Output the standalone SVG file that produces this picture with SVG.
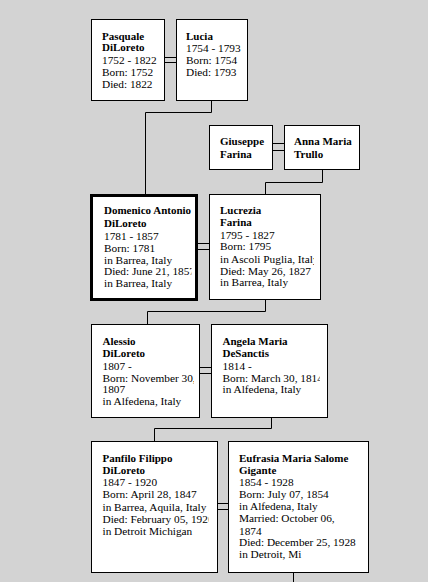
<svg xmlns="http://www.w3.org/2000/svg" width="428" height="582" viewBox="0 0 428 582">
<style>
.bg{fill:#d3d3d3}
.box{fill:#fff;stroke:#000;stroke-width:1}
.thick{fill:#fff;stroke:#000;stroke-width:3}
.ln{fill:none;stroke:#000;stroke-width:1}
text{font-family:"Liberation Serif","Times New Roman",serif;font-size:11.3px;fill:#000}
.n{font-weight:bold;font-size:11px}
</style>
<defs>
<clipPath id="c1"><rect x="92" y="20" width="70" height="80"/></clipPath>
<clipPath id="c2"><rect x="177" y="20" width="68" height="80"/></clipPath>
<clipPath id="c3"><rect x="210" y="126" width="61" height="43"/></clipPath>
<clipPath id="c4"><rect x="285" y="126" width="73" height="43"/></clipPath>
<clipPath id="c5"><rect x="93" y="197" width="98.5" height="100"/></clipPath>
<clipPath id="c6"><rect x="210" y="195" width="104" height="104"/></clipPath>
<clipPath id="c7"><rect x="92" y="325" width="102" height="92"/></clipPath>
<clipPath id="c8"><rect x="212" y="325" width="108" height="92"/></clipPath>
<clipPath id="c9"><rect x="92" y="442" width="116.5" height="130"/></clipPath>
<clipPath id="c10"><rect x="229" y="442" width="134" height="130"/></clipPath>
</defs>
<rect class="bg" x="0" y="0" width="428" height="582"/>
<g id="connectors">
<path class="ln" d="M164.5 57.5H176.5M164.5 62.5H176.5"/>
<path class="ln" d="M211.5 100.5V112.5H145.5V195"/>
<path class="ln" d="M272.5 143.5H284.5M272.5 150.5H284.5"/>
<path class="ln" d="M322.5 169.5V182.5H265.5V194.5"/>
<path class="ln" d="M198 243.5H209.5M198 249.5H209.5"/>
<path class="ln" d="M265.5 299.5V311.5H147.5V324.5"/>
<path class="ln" d="M199.5 367.5H211.5M199.5 373.5H211.5"/>
<path class="ln" d="M271.5 417.5V428.5H154.5V441.5"/>
<path class="ln" d="M217.5 503.5H228.5M217.5 509.5H228.5"/>
<path class="ln" d="M293.5 572.5V582"/>
</g>
<g id="pasquale">
<rect class="box" x="91.5" y="19.5" width="73" height="81"/>
<g clip-path="url(#c1)">
<text class="n" x="102" y="39.5">Pasquale</text>
<text class="n" x="102" y="51">DiLoreto</text>
<text x="102" y="64">1752 - 1822</text>
<text x="102" y="75.5">Born: 1752</text>
<text x="102" y="87.5">Died: 1822</text>
</g>
</g>
<g id="lucia">
<rect class="box" x="176.5" y="19.5" width="71" height="81"/>
<g clip-path="url(#c2)">
<text class="n" x="186" y="39.5">Lucia</text>
<text x="186" y="52">1754 - 1793</text>
<text x="186" y="63.5">Born: 1754</text>
<text x="186" y="75.5">Died: 1793</text>
</g>
</g>
<g id="giuseppe">
<rect class="box" x="209.5" y="125.5" width="63" height="44"/>
<g clip-path="url(#c3)">
<text class="n" x="220" y="144.5">Giuseppe</text>
<text class="n" x="220" y="157.5">Farina</text>
</g>
</g>
<g id="annamaria">
<rect class="box" x="284.5" y="125.5" width="75" height="44"/>
<g clip-path="url(#c4)">
<text class="n" x="294" y="144.5">Anna Maria</text>
<text class="n" x="294" y="157.5">Trullo</text>
</g>
</g>
<g id="domenico">
<rect class="thick" x="91.5" y="195.5" width="105" height="104"/>
<g clip-path="url(#c5)">
<text class="n" x="104" y="214">Domenico Antonio</text>
<text class="n" x="104" y="227">DiLoreto</text>
<text x="104" y="240">1781 - 1857</text>
<text x="104" y="251.5">Born: 1781</text>
<text x="104" y="263.5">in Barrea, Italy</text>
<text x="104" y="275">Died: June 21, 1857</text>
<text x="104" y="287">in Barrea, Italy</text>
</g>
</g>
<g id="lucrezia">
<rect class="box" x="209.5" y="194.5" width="111" height="105"/>
<g clip-path="url(#c6)">
<text class="n" x="220" y="213.5">Lucrezia</text>
<text class="n" x="220" y="225.5">Farina</text>
<text x="220" y="238.5">1795 - 1827</text>
<text x="220" y="250">Born: 1795</text>
<text x="220" y="262.5">in Ascoli Puglia, Italy</text>
<text x="220" y="274.5">Died: May 26, 1827</text>
<text x="220" y="286">in Barrea, Italy</text>
</g>
</g>
<g id="alessio">
<rect class="box" x="91.5" y="324.5" width="108" height="93"/>
<g clip-path="url(#c7)">
<text class="n" x="102.5" y="344.5">Alessio</text>
<text class="n" x="102.5" y="357">DiLoreto</text>
<text x="102.5" y="369.5">1807 -</text>
<text x="102.5" y="381.5">Born: November 30,</text>
<text x="102.5" y="392.5">1807</text>
<text x="102.5" y="404.5">in Alfedena, Italy</text>
</g>
</g>
<g id="angela">
<rect class="box" x="211.5" y="324.5" width="116" height="93"/>
<g clip-path="url(#c8)">
<text class="n" x="222.5" y="344.5">Angela Maria</text>
<text class="n" x="222.5" y="357">DeSanctis</text>
<text x="222.5" y="369.5">1814 -</text>
<text x="222.5" y="381.5">Born: March 30, 1814</text>
<text x="222.5" y="393">in Alfedena, Italy</text>
</g>
</g>
<g id="panfilo">
<rect class="box" x="91.5" y="441.5" width="126" height="131"/>
<g clip-path="url(#c9)">
<text class="n" x="102.5" y="461.5">Panfilo Filippo</text>
<text class="n" x="102.5" y="473.5">DiLoreto</text>
<text x="102.5" y="486">1847 - 1920</text>
<text x="102.5" y="497.5">Born: April 28, 1847</text>
<text x="102.5" y="511">in Barrea, Aquila, Italy</text>
<text x="102.5" y="522.5">Died: February 05, 1920</text>
<text x="102.5" y="534.5">in Detroit Michigan</text>
</g>
</g>
<g id="eufrasia">
<rect class="box" x="228.5" y="441.5" width="140" height="131"/>
<g clip-path="url(#c10)">
<text class="n" x="239" y="461.5">Eufrasia Maria Salome</text>
<text class="n" x="239" y="473.5">Gigante</text>
<text x="239" y="486">1854 - 1928</text>
<text x="239" y="497.5">Born: July 07, 1854</text>
<text x="239" y="510">in Alfedena, Italy</text>
<text x="239" y="522">Married: October 06,</text>
<text x="239" y="534.5">1874</text>
<text x="239" y="546">Died: December 25, 1928</text>
<text x="239" y="558">in Detroit, Mi</text>
</g>
</g>
</svg>
